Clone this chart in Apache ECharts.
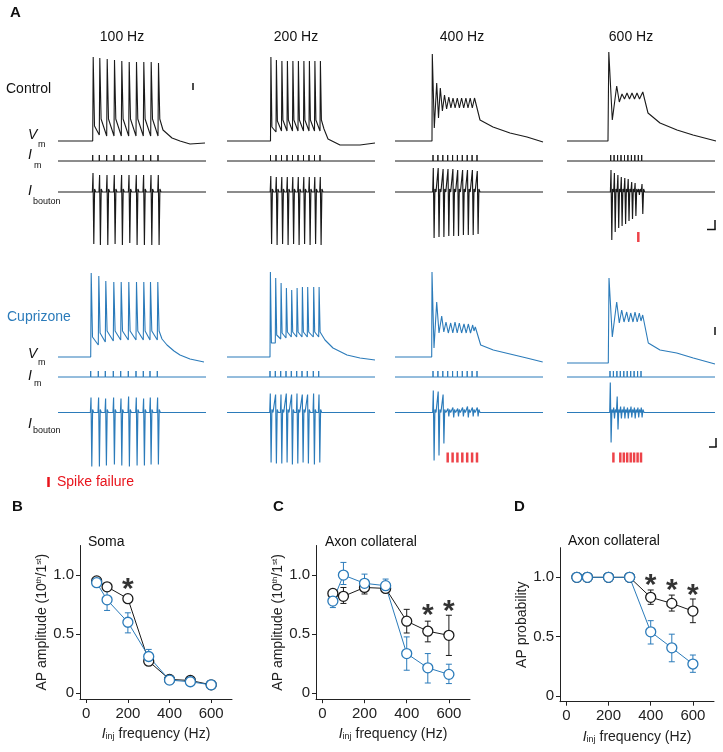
<!DOCTYPE html>
<html>
<head>
<meta charset="utf-8">
<script src="https://cdn.jsdelivr.net/npm/echarts@6/dist/echarts.min.js"></script>
<style>
  html, body { margin: 0; padding: 0; background: #fff; }
  #chart { width: 723px; height: 752px; }
</style>
</head>
<body>
<div id="chart"></div>
<script>
// ---- panel A: traces (t = time units across a 150-wide sweep, v = deflection above rest) ----
// Control, 100 Hz
const ctl100Pulses = [34.7, 41.3, 48.7, 56, 63.3, 70.7, 78, 85.3, 92.7, 100];
const ctl100Peak = [84, 83, 82, 81, 80, 79, 79, 79, 79, 78];
const ctl100Pre = [0, 6, 5, 5, 5, 5, 5, 5, 5, 5];
const ctl100Post = [15, 22, 22, 22, 22, 22, 22, 22, 22, 22];
const ctl100Tail = [[105, 11], [114, 3], [122, 0], [132, -3], [147, -2]];
const ctl100Up = [19, 17, 17, 17, 17, 17, 17, 17, 17, 17];
const ctl100Down = [-52, -53, -53, -52, -53, -51, -53, -53, -53, -53];

// Control, 200 Hz
const ctl200Pulses = [43.5, 49, 54.5, 60, 65.5, 71, 76.5, 82, 87.5, 93];
const ctl200Peak = [84, 81, 80, 80, 80, 80, 80, 80, 80, 80];
const ctl200Pre = [0, 9, 10, 10, 10, 10, 10, 10, 10, 10];
const ctl200Post = [14, 20, 21, 21, 21, 21, 21, 21, 21, 21];
const ctl200Tail = [[97, 12], [101, 2], [113, -4], [133, -4], [148, -2]];
const ctl200Up = [16, 15, 15, 15, 15, 15, 15, 15, 15, 15];
const ctl200Down = [-52, -53, -52, -53, -52, -53, -52, -53, -52, -53];

// Control, 400 Hz
const ctl400Pulses = [38, 42.9, 47.8, 52.7, 57.6, 62.4, 67.3, 72.2, 77.1, 82];
const ctl400Vm = [[0, 0], [37, 0], [37.3, 87], [39.3, 13], [41.7, 58], [43.5, 23], [45.3, 53], [47.4, 30],
  [49.5, 46], [51.6, 32], [53.8, 44], [55.9, 33], [58, 43], [60.1, 33], [62.3, 43], [64.4, 33], [66.6, 43],
  [68.7, 33], [70.9, 43], [73, 33], [75.2, 43], [77.3, 33], [79.5, 43], [81.5, 42], [85, 21], [98, 14],
  [115, 8], [132, 4], [148, -1]];
const ctl400Up = [24, 24, 23, 23, 23, 22, 22, 22, 22, 21];
const ctl400Down = [-46, -45, -45, -44, -44, -44, -43, -43, -43, -42];

// Control, 600 Hz
const ctl600Pulses = [43.7, 47.1, 50.6, 54, 57.5, 60.9, 64.4, 67.8, 71.3, 74.7];
const ctl600Vm = [[0, 0], [41, 0], [41.8, 89], [45.3, 21], [49.7, 55], [52.3, 39], [55, 47], [57.5, 42],
  [60, 48], [62.5, 42], [65, 48], [67.5, 42], [70, 48], [72.5, 42], [75.8, 49], [81, 28], [93, 18],
  [110, 11], [126, 6], [149, 0]];
const ctl600Up = [22, 19, 17, 15, 14, 13, 10, 9, 3, 8];
const ctl600Down = [-48, -40, -36, -34, -32, -29, -27, -24, -3, -22];
const ctl600Fail = [71.3];

// Cuprizone, 100 Hz
const cup100Pulses = [32.7, 40.3, 47.3, 55.3, 62.7, 70.3, 78, 85.3, 92, 99.3];
const cup100Peak = [84, 81, 76, 75, 75, 75, 75, 75, 75, 75];
const cup100Pre = [0, 12, 15, 16, 17, 17, 17, 17, 17, 17];
const cup100Post = [20, 24, 26, 26, 26, 26, 26, 26, 26, 26];
const cup100Tail = [[104, 18], [109, 12], [116, 6], [122, 2], [132, -2], [146, -5]];
const cup100Up = [15, 15, 14, 15, 14, 16, 15, 14, 15, 15];
const cup100Down = [-54, -54, -53, -52, -53, -54, -53, -53, -52, -52];

// Cuprizone, 200 Hz
const cup200Pulses = [43, 48.3, 53.7, 59, 64.3, 69.7, 75, 80.3, 86.3, 91.7];
const cup200Peak = [85, 79, 74, 69, 67, 69, 70, 70, 70, 70];
const cup200Pre = [0, 14, 18, 19, 20, 20, 20, 20, 20, 20];
const cup200Post = [14, 22, 24, 25, 25, 25, 25, 25, 25, 25];
const cup200Tail = [[98, 17], [106, 9], [120, 2], [133, -1], [148, -3]];
const cup200Up = [19, 18, 18, 19, 18, 19, 18, 18, 19, 18];
const cup200Down = [-50, -51, -51, -50, -52, -51, -50, -51, -52, -50];

// Cuprizone, 400 Hz
const cup400Pulses = [38, 42.9, 47.8, 52.7, 57.6, 62.4, 67.3, 72.2, 77.1, 82];
const cup400Vm = [[0, 0], [36.7, 0], [37, 85], [39, 9], [41.7, 55], [44, 24], [46.7, 41], [48.8, 25],
  [51, 35], [53.3, 24], [55.7, 34], [57.8, 24], [60, 35], [62.2, 24], [64.3, 34], [66.6, 24], [69, 33],
  [71.2, 24], [73.3, 33], [75.5, 24], [77.7, 32], [79, 26], [80.3, 30], [85.7, 12], [98.3, 7], [115, 3],
  [131.7, -1], [147.7, -5]];
const cup400Up = [22, 21, 18, 4, 5, 4, 5, 6, 5, 5];
const cup400Down = [-48, -43, -31, -4, -5, -4, -4, -5, -4, -4];
const cup400Fail = [52.7, 57.6, 62.4, 67.3, 72.2, 77.1, 82];

// Cuprizone, 600 Hz
const cup600Pulses = [43, 46.4, 49.9, 53.3, 56.8, 60.2, 63.7, 67.1, 70.6, 74];
const cup600Vm = [[0, -6], [41.3, -6], [42, 79], [45.3, 20], [49.7, 55], [52.3, 34], [54.7, 47], [57, 35],
  [59.7, 45], [61.7, 35], [63.7, 44], [66, 35], [68, 45], [70.2, 35], [72.3, 44], [74, 36], [75.7, 42],
  [81.3, 14], [93, 7], [109.7, 4], [126.3, -1], [148, -7]];
const cup600Up = [30, 5, 16, 6, 6, 5, 6, 5, 5, 5];
const cup600Down = [-30, -6, -17, -6, -6, -6, -5, -6, -5, -5];
const cup600Fail = [46.4, 53.3, 56.8, 60.2, 63.7, 67.1, 70.6, 74];

const stimHeight = 6;
const freqTitles = ['100 Hz', '200 Hz', '400 Hz', '600 Hz'];

// ---- panels B-D ----
const freqs = [50, 100, 200, 300, 400, 500, 600];
const somaCtl = [0.95, 0.90, 0.80, 0.27, 0.116, 0.107, 0.07];
const somaCtlLo = [0.94, 0.88, 0.77, 0.25, 0.10, 0.10, 0.06];
const somaCtlHi = [0.96, 0.92, 0.83, 0.29, 0.13, 0.12, 0.08];
const somaCup = [0.935, 0.79, 0.60, 0.31, 0.11, 0.096, 0.07];
const somaCupLo = [0.92, 0.70, 0.51, 0.27, 0.10, 0.09, 0.06];
const somaCupHi = [0.95, 0.89, 0.68, 0.37, 0.12, 0.11, 0.08];
const somaStars = [[200, 0.94]];

const axonCtl = [0.845, 0.82, 0.895, 0.887, 0.61, 0.525, 0.49];
const axonCtlLo = [0.82, 0.76, 0.84, 0.87, 0.51, 0.435, 0.32];
const axonCtlHi = [0.87, 0.895, 0.94, 0.91, 0.71, 0.61, 0.66];
const axonCup = [0.78, 1.0, 0.93, 0.91, 0.336, 0.215, 0.16];
const axonCupLo = [0.725, 0.92, 0.87, 0.88, 0.195, 0.087, 0.082];
const axonCupHi = [0.80, 1.107, 1.008, 0.966, 0.477, 0.336, 0.246];
const axonStars = [[500, 0.727], [600, 0.76]];

const probCtl = [1, 1, 1, 1, 0.831, 0.78, 0.715];
const probCtlLo = [1, 1, 1, 1, 0.772, 0.715, 0.617];
const probCtlHi = [1, 1, 1, 1, 0.893, 0.85, 0.817];
const probCup = [1, 1, 1, 1, 0.54, 0.405, 0.268];
const probCupLo = [1, 1, 1, 1, 0.437, 0.287, 0.198];
const probCupHi = [1, 1, 1, 1, 0.634, 0.52, 0.344];
const probStars = [[400, 0.997], [500, 0.958], [600, 0.912]];

// ---- builders ----
function spikeTrain(pulses, peak, pre, post, tail, rise, fall) {
  const pts = [[0, 0]];
  pulses.forEach((t, i) => {
    pts.push([t, pre[i]], [t + rise, peak[i]], [t + rise + fall, post[i]]);
  });
  return pts.concat(tail);
}
function stimTrace(pulses) {
  const pts = [[0, 0]];
  pulses.forEach(t => pts.push([t, 0], [t, stimHeight], [t, 0]));
  pts.push([148, 0]);
  return pts;
}
function boutonTrace(pulses, up, down) {
  const pts = [[0, 0]];
  pulses.forEach((t, i) => {
    pts.push([t - 0.3, 0], [t + 0.3, up[i]], [t + 1.1, down[i]], [t + 1.9, 3], [t + 3, 0]);
  });
  pts.push([148, 0]);
  return pts;
}

const FONT = 'Liberation Sans, Arial, Helvetica, sans-serif';
const BLACK = '#1a1a1a', BLUE = '#2b7bba', RED = '#e8141c';
const colLeft = [58, 227, 395, 567];
const rowBase = [{ vm: 141, im: 161, ib: 192 }, { vm: 357, im: 377, ib: 412.5 }];

const grids = [], xAxes = [], yAxes = [], series = [];

function addGrid(left, top, width, height, xr, yr) {
  const i = grids.length;
  grids.push({ left, top, width, height });
  xAxes.push({ gridIndex: i, type: 'value', min: xr[0], max: xr[1], show: false });
  yAxes.push({ gridIndex: i, type: 'value', min: yr[0], max: yr[1], show: false });
  return i;
}
function lineSeries(gi, data, color, width) {
  return {
    type: 'line', xAxisIndex: gi, yAxisIndex: gi, data, symbol: 'none', showSymbol: false,
    lineStyle: { color, width }, silent: true, clip: false, sampling: null
  };
}

const traceBlocks = [
  { row: 0, col: 0, vm: spikeTrain(ctl100Pulses, ctl100Peak, ctl100Pre, ctl100Post, ctl100Tail, 0.5, 1.3), pulses: ctl100Pulses, up: ctl100Up, down: ctl100Down, fail: [] },
  { row: 0, col: 1, vm: spikeTrain(ctl200Pulses, ctl200Peak, ctl200Pre, ctl200Post, ctl200Tail, 0.4, 1.0), pulses: ctl200Pulses, up: ctl200Up, down: ctl200Down, fail: [] },
  { row: 0, col: 2, vm: ctl400Vm, pulses: ctl400Pulses, up: ctl400Up, down: ctl400Down, fail: [] },
  { row: 0, col: 3, vm: ctl600Vm, pulses: ctl600Pulses, up: ctl600Up, down: ctl600Down, fail: ctl600Fail },
  { row: 1, col: 0, vm: spikeTrain(cup100Pulses, cup100Peak, cup100Pre, cup100Post, cup100Tail, 0.5, 1.3), pulses: cup100Pulses, up: cup100Up, down: cup100Down, fail: [] },
  { row: 1, col: 1, vm: spikeTrain(cup200Pulses, cup200Peak, cup200Pre, cup200Post, cup200Tail, 0.4, 1.0), pulses: cup200Pulses, up: cup200Up, down: cup200Down, fail: [] },
  { row: 1, col: 2, vm: cup400Vm, pulses: cup400Pulses, up: cup400Up, down: cup400Down, fail: cup400Fail },
  { row: 1, col: 3, vm: cup600Vm, pulses: cup600Pulses, up: cup600Up, down: cup600Down, fail: cup600Fail }
];

traceBlocks.forEach(b => {
  const base = rowBase[b.row];
  const left = colLeft[b.col];
  const color = b.row ? BLUE : BLACK;
  const gv = addGrid(left, base.vm - 92, 150, 104, [0, 150], [-12, 92]);
  const gi = addGrid(left, base.im - 10, 150, 14, [0, 150], [-4, 10]);
  const gb = addGrid(left, base.ib - 35, 150, 95, [0, 150], [-60, 35]);
  series.push(lineSeries(gv, b.vm, color, 1.1));
  series.push(lineSeries(gi, stimTrace(b.pulses), color, 1));
  series.push(lineSeries(gb, boutonTrace(b.pulses, b.up, b.down), color, 1.15));
  if (b.fail.length) {
    series.push({
      type: 'scatter', xAxisIndex: gb, yAxisIndex: gb, data: b.fail.map(t => [t, -45]),
      symbol: 'rect', symbolSize: [2.5, 10], itemStyle: { color: RED }, silent: true
    });
  }
});

// ---- summary panels ----
function errorBars(gi, lo, hi, color) {
  return {
    type: 'custom', xAxisIndex: gi, yAxisIndex: gi, z: 1, silent: true,
    data: freqs.map((f, i) => [f, lo[i], hi[i]]),
    renderItem(params, api) {
      const a = api.coord([api.value(0), api.value(1)]);
      const b = api.coord([api.value(0), api.value(2)]);
      const w = 3;
      const st = { stroke: color, lineWidth: 1 };
      return {
        type: 'group', children: [
          { type: 'line', shape: { x1: a[0], y1: a[1], x2: b[0], y2: b[1] }, style: st },
          { type: 'line', shape: { x1: a[0] - w, y1: a[1], x2: a[0] + w, y2: a[1] }, style: st },
          { type: 'line', shape: { x1: b[0] - w, y1: b[1], x2: b[0] + w, y2: b[1] }, style: st }
        ]
      };
    }
  };
}
function meanSeries(gi, vals, color) {
  return {
    type: 'line', xAxisIndex: gi, yAxisIndex: gi, z: 3, silent: true,
    data: freqs.map((f, i) => [f, vals[i]]),
    symbol: 'circle', symbolSize: 10, showSymbol: true,
    lineStyle: { color, width: 1 },
    itemStyle: { color: '#fff', borderColor: color, borderWidth: 1.3 }
  };
}
const axisCol = '#222';
function addPanel(left, top, width, height, yName, ctl, ctlLo, ctlHi, cup, cupLo, cupHi, stars) {
  const i = grids.length;
  grids.push({ left, top, width, height });
  xAxes.push({
    gridIndex: i, type: 'value', min: -30, max: 700,
    axisLine: { show: true, onZero: false, lineStyle: { color: axisCol, width: 1 } },
    axisTick: { show: true, length: 4, customValues: [0, 200, 400, 600], lineStyle: { color: axisCol } },
    axisLabel: { customValues: [0, 200, 400, 600], fontSize: 15, fontFamily: FONT, color: axisCol, margin: 7 },
    splitLine: { show: false },
    name: '{it|I}{sub|inj} frequency (Hz)', nameLocation: 'middle', nameGap: 28,
    nameTextStyle: {
      fontSize: 14, fontFamily: FONT, color: axisCol,
      rich: {
        it: { fontSize: 14, fontStyle: 'italic', fontFamily: FONT, color: axisCol },
        sub: { fontSize: 9, fontFamily: FONT, color: axisCol, verticalAlign: 'bottom', lineHeight: 9 }
      }
    }
  });
  yAxes.push({
    gridIndex: i, type: 'value', min: -0.05, max: 1.25,
    axisLine: { show: true, onZero: false, lineStyle: { color: axisCol, width: 1 } },
    axisTick: { show: true, length: 4, customValues: [0, 0.5, 1], lineStyle: { color: axisCol } },
    axisLabel: {
      customValues: [0, 0.5, 1], fontSize: 15, fontFamily: FONT, color: axisCol, margin: 6,
      formatter: v => (v === 0 ? '0' : v.toFixed(1))
    },
    splitLine: { show: false },
    name: yName, nameLocation: 'middle', nameGap: 30,
    nameTextStyle: {
      fontSize: 14, fontFamily: FONT, color: axisCol,
      rich: { sup: { fontSize: 8, fontFamily: FONT, color: axisCol, verticalAlign: 'top', lineHeight: 8 } }
    }
  });
  series.push(errorBars(i, ctlLo, ctlHi, BLACK));
  series.push(errorBars(i, cupLo, cupHi, BLUE));
  series.push(meanSeries(i, ctl, BLACK));
  series.push(meanSeries(i, cup, BLUE));
  series.push({
    type: 'scatter', xAxisIndex: i, yAxisIndex: i, data: stars, symbolSize: 1, z: 4, silent: true,
    itemStyle: { color: 'rgba(0,0,0,0)' },
    label: { show: true, position: 'inside', formatter: '*', fontSize: 30, fontWeight: 'bold', fontFamily: FONT, color: '#000', offset: [0, 8] }
  });
}
const ampName = 'AP amplitude (10{sup|th}/1{sup|st})';
addPanel(80, 545.5, 152, 153.5, ampName, somaCtl, somaCtlLo, somaCtlHi, somaCup, somaCupLo, somaCupHi, somaStars);
addPanel(316, 545.5, 154, 153.7, ampName, axonCtl, axonCtlLo, axonCtlHi, axonCup, axonCupLo, axonCupHi, axonStars);
addPanel(560, 547.7, 154, 154, 'AP probability', probCtl, probCtlLo, probCtlHi, probCup, probCupLo, probCupHi, probStars);

// ---- text and scale bars ----
function txt(text, x, y, size, opts) {
  opts = opts || {};
  const align = opts.align || 'left';
  return {
    type: 'text', silent: true,
    style: {
      text, x, y, fontSize: size, fontFamily: FONT,
      fontWeight: opts.bold ? 'bold' : 'normal', fontStyle: opts.italic ? 'italic' : 'normal',
      fill: opts.color || '#111', align, textAlign: align, verticalAlign: 'middle', textVerticalAlign: 'middle'
    }
  };
}
function bar(x1, y1, x2, y2, color, w) {
  return { type: 'line', silent: true, shape: { x1, y1, x2, y2 }, style: { stroke: color || '#111', lineWidth: w || 1.5 } };
}
const graphics = [
  txt('A', 10, 13, 15, { bold: true }),
  txt('B', 12, 506.5, 15, { bold: true }),
  txt('C', 273, 506.5, 15, { bold: true }),
  txt('D', 514, 506.5, 15, { bold: true }),
  txt('Control', 6, 89, 14),
  txt('Cuprizone', 7, 317, 14, { color: BLUE }),
  txt('V', 28, 135, 14, { italic: true }), txt('m', 38, 145, 9),
  txt('I', 28, 155.5, 14, { italic: true }), txt('m', 34, 165.5, 9),
  txt('I', 28, 191.5, 14, { italic: true }), txt('bouton', 33, 201.5, 9),
  txt('V', 28, 354, 14, { italic: true }), txt('m', 38, 362.5, 9),
  txt('I', 28, 376, 14, { italic: true }), txt('m', 34, 383.5, 9),
  txt('I', 28, 424, 14, { italic: true }), txt('bouton', 33, 431, 9),
  txt('Soma', 88, 542, 14),
  txt('Axon collateral', 325, 542, 14),
  txt('Axon collateral', 568, 541, 14),
  txt('Spike failure', 57, 482, 14, { color: RED }),
  bar(48.5, 477, 48.5, 487, RED, 2.5),
  bar(193, 83, 193, 90),
  bar(715, 220, 715, 229.5), bar(707, 229.5, 715.7, 229.5),
  bar(715, 327, 715, 335),
  bar(716, 438, 716, 447), bar(709, 447, 716.7, 447)
];
[122, 296, 462, 631].forEach((x, i) => graphics.push(txt(freqTitles[i], x, 37.5, 14, { align: 'center' })));

const chart = echarts.init(document.getElementById('chart'));
chart.setOption({
  animation: false,
  backgroundColor: '#fff',
  grid: grids,
  xAxis: xAxes,
  yAxis: yAxes,
  series,
  graphic: graphics
});
</script>
</body>
</html>
